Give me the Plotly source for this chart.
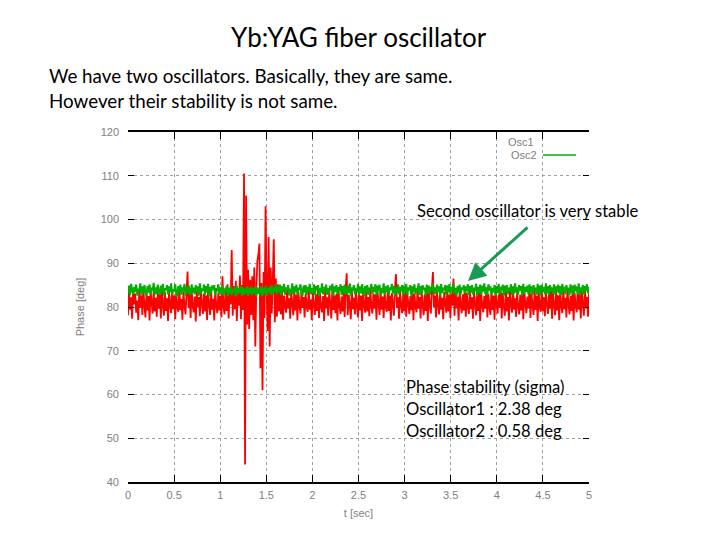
import plotly.graph_objects as go

# ---- data ----
t_end = 5.0
osc1 = [
    78.1, 83.6, 79.4, 82.2, 77.3, 84.2, 80.6, 83.1, 78.7, 81.5, 77.0, 83.9, 79.8, 82.7, 78.2, 84.4, 80.1, 77.6, 83.3, 79.2, 82.5, 76.9, 83.8, 80.9, 78.5, 84.0, 79.0, 82.1, 77.8, 83.5,
    79.6, 82.8, 77.4, 84.3, 80.3, 78.0, 83.4, 79.1, 82.0, 76.8, 83.7, 80.7, 78.6, 84.1, 79.5, 82.6, 77.2, 83.2, 80.0, 78.9, 84.5, 79.3, 81.8, 77.1, 83.6, 80.4, 78.3, 82.9, 88.1, 79.7,
    83.0, 77.5, 84.1, 80.2, 78.8, 82.4, 76.7, 83.8, 79.9, 82.3, 77.9, 84.3, 80.8, 78.4, 83.1, 79.0, 82.7, 77.0, 84.0, 80.5, 78.2, 83.5, 79.4, 81.9, 76.9, 84.2, 80.1, 78.6, 83.3, 79.2,
    82.5, 77.6, 87.0, 80.0, 78.3, 84.4, 79.1, 85.2, 77.4, 83.6, 80.6, 93.0, 78.0, 84.8, 79.5, 86.0, 76.8, 84.1, 80.3, 87.2, 77.2, 85.0, 79.3, 110.5, 44.0, 105.5, 76.0, 88.5, 75.0, 86.2,
    78.2, 87.0, 77.0, 89.0, 71.0, 84.5, 90.5, 92.0, 94.5, 66.0, 85.5, 61.0, 88.0, 77.5, 103.0, 84.0, 74.5, 96.0, 71.0, 89.0, 78.5, 86.0, 95.5, 76.5, 86.5, 77.8, 85.2, 79.0, 84.4, 78.3,
    83.9, 77.1, 82.6, 80.2, 78.7, 84.2, 79.6, 82.0, 77.3, 83.7, 80.8, 78.1, 84.0, 79.2, 82.8, 76.9, 83.4, 80.4, 78.5, 84.3, 79.8, 82.3, 77.6, 83.1, 80.0, 78.9, 84.1, 79.4, 81.7, 77.0,
    83.8, 80.5, 78.2, 82.9, 79.1, 84.4, 77.5, 83.2, 80.1, 78.8, 82.5, 76.8, 84.0, 79.7, 82.2, 78.0, 83.6, 80.7, 77.4, 84.2, 79.3, 82.7, 78.6, 83.0, 76.9, 84.5, 80.3, 78.4, 82.4, 79.0,
    83.5, 77.7, 84.1, 87.7, 78.1, 82.8, 80.6, 77.2, 83.9, 79.5, 82.1, 78.3, 84.3, 80.0, 77.6, 83.3, 79.2, 82.6, 76.8, 84.0, 80.4, 78.7, 83.7, 79.0, 82.3, 77.9, 84.4, 80.2, 78.5, 83.1,
    79.6, 82.9, 77.1, 83.8, 80.8, 78.2, 84.2, 79.4, 82.4, 77.5, 83.5, 80.1, 78.9, 84.1, 79.1, 82.7, 76.9, 83.2, 80.5, 78.0, 84.3, 87.5, 79.8, 82.2, 77.3, 83.9, 80.3, 78.6, 82.8, 79.0,
    84.0, 77.8, 83.4, 80.7, 78.4, 82.5, 79.3, 84.4, 77.0, 83.0, 80.0, 78.8, 84.2, 79.6, 82.3, 77.4, 83.7, 80.4, 78.1, 82.9, 79.1, 84.1, 76.8, 83.3, 80.6, 78.5, 84.3, 88.0, 79.9, 82.6,
    77.6, 83.8, 80.2, 78.3, 84.0, 79.4, 82.1, 77.2, 83.5, 80.9, 78.7, 84.2, 79.0, 82.8, 77.5, 83.1, 80.3, 86.5, 78.0, 84.4, 79.7, 82.4, 76.9, 83.6, 80.5, 78.6, 82.9, 79.2, 84.1, 77.8,
    83.3, 80.1, 78.4, 84.3, 79.5, 82.2, 77.3, 83.9, 80.7, 78.1, 82.7, 79.1, 84.0, 76.8, 83.4, 80.4, 78.8, 82.5, 79.6, 84.4, 77.6, 83.0, 80.0, 78.2, 84.1, 79.3, 82.6, 77.1, 83.7, 80.8,
    78.5, 82.9, 79.8, 84.2, 77.4, 83.2, 80.3, 78.0, 84.0, 79.0, 82.3, 76.9, 83.8, 80.6, 78.7, 84.4, 79.4, 82.0, 77.7, 83.5, 80.2, 78.3, 82.8, 79.2, 84.1, 77.2, 83.6, 80.9, 78.6, 82.4,
    79.7, 84.3, 77.5, 83.1, 80.4, 78.2, 84.0, 79.3, 82.6, 76.8, 83.7, 80.1, 78.9, 84.2, 79.0, 82.2, 77.9, 83.4, 80.7, 78.4, 82.9, 79.6, 84.4, 77.3, 83.0, 80.5, 78.1, 84.1, 79.2, 82.7,
    77.0, 83.6, 80.3, 78.6, 84.3, 79.5, 82.1, 77.6, 83.9, 80.8, 78.3, 82.5, 79.1, 84.0, 76.9, 83.3, 80.2, 78.8, 84.2, 79.4, 82.8, 77.4, 83.5, 80.6, 78.0, 84.4, 79.7, 82.3, 77.8, 83.2,
]
osc2 = [
    83.2, 84.9, 82.7, 85.3, 83.9, 82.9, 84.6, 83.4, 85.1, 82.6, 84.2, 83.7, 85.4, 82.8, 84.7, 83.1, 85.0, 83.6, 82.5, 84.8, 83.3, 85.2, 82.9, 84.4, 83.8, 85.5, 82.7, 84.5, 83.0, 85.1,
    83.5, 82.8, 84.9, 83.2, 85.3, 82.6, 84.3, 83.9, 85.0, 82.9, 84.7, 83.4, 85.4, 82.7, 84.1, 83.6, 85.2, 83.0, 82.5, 84.8, 83.3, 85.1, 82.8, 84.5, 83.7, 85.3, 82.6, 84.6, 83.1, 84.9,
    83.8, 82.7, 85.2, 83.3, 84.4, 82.9, 85.0, 83.5, 84.7, 82.6, 85.4, 83.0, 84.2, 83.7, 85.1, 82.8, 84.8, 83.4, 85.3, 82.5, 84.6, 83.2, 84.9, 83.9, 85.0, 82.7, 84.3, 83.6, 85.2, 82.9,
    84.5, 83.1, 84.9, 82.6, 84.2, 83.4, 84.8, 82.5, 84.4, 83.0, 84.7, 82.7, 84.1, 83.3, 84.6, 82.4, 84.9, 82.9, 84.3, 83.2, 84.8, 82.6, 84.5, 82.8, 84.2, 83.1, 84.7, 82.5, 84.4, 83.0,
    84.6, 82.7, 84.3, 83.2, 84.8, 82.4, 84.5, 83.0, 84.2, 82.8, 84.7, 82.5, 84.4, 83.1, 84.9, 82.6, 84.3, 83.3, 84.6, 82.8, 85.0, 83.0, 84.5, 83.5, 85.2, 82.9, 84.7, 83.3, 85.1, 82.7,
    84.8, 83.4, 85.3, 82.8, 84.5, 83.7, 85.0, 82.6, 84.2, 83.2, 85.4, 82.9, 84.7, 83.5, 85.1, 82.7, 84.4, 83.9, 85.2, 83.0, 82.6, 84.9, 83.3, 85.0, 82.8, 84.6, 83.6, 85.3, 82.9, 84.3,
    83.1, 85.2, 82.7, 84.8, 83.8, 85.0, 82.5, 84.4, 83.3, 85.4, 82.9, 84.6, 83.6, 85.1, 82.8, 84.3, 83.2, 84.9, 83.9, 85.3, 82.6, 84.7, 83.4, 85.0, 82.9, 84.5, 83.7, 85.2, 82.7, 84.8,
    83.0, 85.1, 83.5, 82.8, 84.9, 83.2, 85.4, 82.6, 84.5, 83.8, 85.0, 82.9, 84.2, 83.4, 85.3, 82.7, 84.7, 83.1, 85.2, 83.6, 82.5, 84.8, 83.3, 85.0, 82.8, 84.4, 83.9, 85.3, 83.0, 84.6,
    83.4, 85.2, 82.7, 84.9, 83.7, 85.1, 82.6, 84.3, 83.2, 85.4, 82.9, 84.7, 83.5, 85.0, 82.8, 84.5, 83.9, 85.3, 83.1, 84.8, 82.6, 84.4, 83.3, 85.2, 82.9, 84.6, 83.6, 85.0, 82.7, 84.9,
    83.2, 85.3, 82.8, 84.5, 83.8, 85.0, 82.5, 84.7, 83.4, 85.2, 82.9, 84.3, 83.6, 85.4, 82.7, 84.8, 83.1, 85.0, 83.9, 84.4, 82.6, 85.1, 83.3, 84.9, 82.8, 84.6, 83.7, 85.3, 83.0, 84.5,
    82.9, 85.1, 83.5, 84.7, 82.6, 85.3, 83.2, 84.4, 83.8, 85.0, 82.7, 84.9, 83.4, 85.2, 82.8, 84.6, 83.6, 85.4, 83.0, 84.3, 82.5, 84.8, 83.3, 85.1, 82.9, 84.5, 83.9, 85.0, 83.1, 84.7,
    83.6, 85.2, 82.7, 84.8, 83.3, 85.0, 82.9, 84.4, 83.7, 85.3, 82.6, 84.6, 83.1, 85.1, 82.8, 84.9, 83.5, 85.4, 83.0, 84.5, 82.7, 85.2, 83.8, 84.7, 82.9, 84.3, 83.4, 85.0, 82.6, 84.8,
    83.2, 85.3, 82.8, 84.6, 83.9, 85.1, 82.5, 84.9, 83.4, 85.0, 82.9, 84.4, 83.6, 85.2, 82.7, 84.7, 83.1, 85.4, 83.3, 84.5, 82.8, 85.0, 83.7, 84.8, 82.6, 85.3, 83.0, 84.6, 83.5, 84.9,
    82.9, 85.2, 83.3, 84.7, 82.7, 85.0, 83.8, 84.4, 82.8, 85.3, 83.2, 84.9, 82.6, 85.1, 83.5, 84.6, 82.9, 85.4, 83.1, 84.8, 82.7, 85.0, 83.6, 84.5, 83.0, 85.2, 82.8, 84.7, 83.4, 85.1,
    83.1, 84.8, 82.7, 85.3, 83.5, 84.6, 82.9, 85.0, 83.8, 84.4, 82.6, 85.2, 83.3, 84.9, 82.8, 85.1, 83.6, 84.7, 83.0, 85.4, 82.7, 84.5, 83.4, 85.0, 82.9, 84.8, 83.7, 85.2, 83.1, 84.6,
]
t1 = [i * t_end / (len(osc1) - 1) for i in range(len(osc1))]
t2 = [i * t_end / (len(osc2) - 1) for i in range(len(osc2))]

x_ticks = [0, 0.5, 1, 1.5, 2, 2.5, 3, 3.5, 4, 4.5, 5]
x_labels = ["0", "0.5", "1", "1.5", "2", "2.5", "3", "3.5", "4", "4.5", "5"]
y_ticks = [40, 50, 60, 70, 80, 90, 100, 110, 120]

title = "Yb:YAG fiber oscillator"
subtitle = ["We have two oscillators. Basically, they are same.",
            "However their stability is not same."]
note1 = "Second oscillator is very stable"
note2 = ["Phase stability (sigma)", "Oscillator1 : 2.38 deg", "Oscillator2 : 0.58 deg"]

# ---- layout geometry ----
W, H = 720, 540
L, R, T, B = 128, 589, 132, 482

def px(xp):
    return (xp - L) / (R - L)

def py(yp):
    return (B - yp) / (B - T)

RED = "#ff0000"
GREEN = "#00b000"
TXT = "Lato"
TICKF = dict(family="Liberation Sans", size=11, color="#808080")

fig = go.Figure()
fig.add_trace(go.Scatter(x=t1, y=osc1, mode="lines", name="Osc1",
                         line=dict(color=RED, width=1.8, simplify=False), showlegend=False))
fig.add_trace(go.Scatter(x=t2, y=osc2, mode="lines", name="Osc2",
                         line=dict(color=GREEN, width=2.0, simplify=False), showlegend=False))

fig.update_layout(
    width=W, height=H,
    margin=dict(l=L, r=W - R, t=T, b=H - B),
    paper_bgcolor="white", plot_bgcolor="white",
    xaxis=dict(range=[0, 5], tickvals=x_ticks, ticktext=x_labels,
               showgrid=True, gridcolor="#a0a0a0", griddash="dot", gridwidth=1,
               showline=True, linecolor="black", linewidth=1.5, mirror="ticks",
               ticks="inside", ticklen=7, tickcolor="black",
               tickfont=TICKF, zeroline=False, ticklabelstandoff=2,
               title=dict(text="t [sec]", font=TICKF, standoff=9)),
    yaxis=dict(range=[40, 120], tickvals=y_ticks,
               showgrid=True, gridcolor="#a0a0a0", griddash="dot", gridwidth=1,
               showline=False, mirror="ticks",
               ticks="inside", ticklen=6, tickcolor="black",
               tickfont=TICKF, zeroline=False, ticklabelstandoff=8,
               title=dict(text="Phase [deg]", font=TICKF, standoff=13)),
)

ann = []
ann.append(dict(text=title, xref="paper", yref="paper", x=px(359), y=py(37),
                xanchor="center", yanchor="middle", showarrow=False,
                font=dict(family=TXT, size=26, color="black")))
for i, s in enumerate(subtitle):
    ann.append(dict(text=s, xref="paper", yref="paper", x=px(47), y=py(75 + 25 * i),
                    xanchor="left", yanchor="middle", showarrow=False,
                    font=dict(family=TXT, size=18.8, color="black")))
ann.append(dict(text=note1, xref="paper", yref="paper", x=px(415), y=py(211),
                xanchor="left", yanchor="middle", showarrow=False,
                font=dict(family=TXT, size=16.6, color="black")))
for i, s in enumerate(note2):
    ann.append(dict(text=s, xref="paper", yref="paper", x=px(404), y=py(387 + 22 * i),
                    xanchor="left", yanchor="middle", showarrow=False,
                    font=dict(family=TXT, size=16.6, color="black")))
# arrow
ann.append(dict(text="", xref="paper", yref="paper", x=px(468), y=py(281),
                ax=61, ay=-55, showarrow=True, arrowhead=2, arrowsize=1.2,
                arrowwidth=3, arrowcolor="#1a9a55"))
# legend
ann.append(dict(text="Osc1", xref="paper", yref="paper", x=px(536), y=py(142),
                xanchor="right", yanchor="middle", showarrow=False, font=TICKF))
ann.append(dict(text="Osc2", xref="paper", yref="paper", x=px(539), y=py(155),
                xanchor="right", yanchor="middle", showarrow=False, font=TICKF))
fig.update_layout(annotations=ann)
fig.add_shape(type="line", xref="paper", yref="paper", x0=px(543), x1=px(576),
              y0=py(155), y1=py(155), line=dict(color=GREEN, width=1.3))

fig.write_html("out.html")
